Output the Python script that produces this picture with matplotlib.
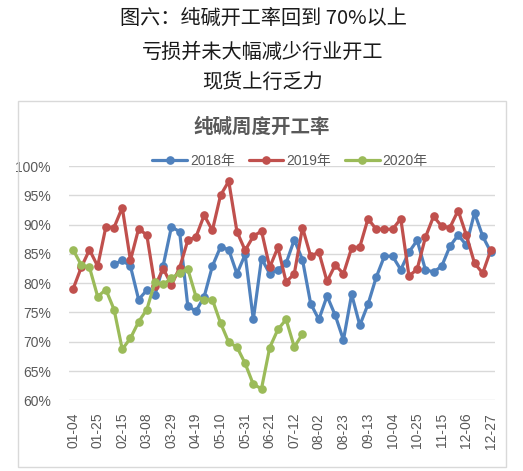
import numpy as np
import matplotlib
matplotlib.use("Agg")
import matplotlib.pyplot as plt
from matplotlib.patches import Rectangle

plt.rcParams['font.family'] = ['Liberation Sans', 'Noto Sans CJK SC', 'DejaVu Sans']

# ---- data ----
n_weeks = 52
tick_positions = list(range(0, 52, 3))
tick_labels = ['01-04', '01-25', '02-15', '03-08', '03-29', '04-19', '05-10', '05-31',
               '06-21', '07-12', '08-02', '08-23', '09-13', '10-04', '10-25', '11-15',
               '12-06', '12-27']

s2018 = [np.nan, np.nan, np.nan, np.nan, np.nan,
         83.2, 83.9, 82.9, 77.2, 78.8, 78.0, 83.0, 89.6, 88.8, 76.1,
         75.2, 77.7, 82.9, 86.2, 85.7, 81.6, 84.9, 73.8, 84.2, 81.6,
         82.3, 83.4, 87.4, 84.0, 76.5, 73.8, 77.8, 74.5, 70.3, 78.1,
         72.8, 76.4, 81.0, 84.6, 84.6, 82.3, 85.3, 87.3, 82.3, 81.9,
         82.9, 86.3, 88.2, 86.5, 92.0, 88.0, 85.3]
s2019 = [79.0, 82.7, 85.7, 82.9, 89.6, 89.5, 92.9, 83.9, 89.3, 88.2,
         79.5, 82.5, 79.7, 82.6, 87.3, 87.9, 91.6, 89.0, 95.0, 97.4,
         88.8, 85.6, 88.0, 88.9, 82.7, 86.1, 80.2, 81.6, 89.5, 84.6,
         85.3, 80.3, 83.1, 81.6, 86.0, 86.2, 91.0, 89.2, 89.2, 89.2,
         91.0, 81.2, 82.4, 87.8, 91.4, 89.7, 89.5, 92.4, 88.2, 83.4,
         81.7, 85.7]
s2020 = [85.7, 83.1, 82.7, 77.7, 78.9, 75.5, 68.7, 70.6, 73.4, 75.5,
         80.2, 79.8, 80.8, 81.8, 82.4, 77.7, 77.2, 77.2, 73.2, 69.9,
         69.1, 66.3, 62.7, 62.0, 69.0, 72.1, 73.8, 69.1, 71.3]

series_names = ['2018年', '2019年', '2020年']
series_colors = ['#4F81BD', '#C0504D', '#9BBB59']

W, H = 523, 471
fig = plt.figure(figsize=(W / 100, H / 100), dpi=100)

# header text
hdr_kw = dict(ha='center', va='center', fontsize=14.5, color='#1a1a1a',
              family=['Noto Sans CJK SC', 'DejaVu Sans'])
fig.text(263 / W, 1 - 18 / H, '图六：纯碱开工率回到 70%以上', **hdr_kw)
fig.text(263 / W, 1 - 52 / H, '亏损并未大幅减少行业开工', **hdr_kw)
fig.text(263 / W, 1 - 82 / H, '现货上行乏力', **hdr_kw)

# chart border
fig.patches.append(Rectangle((18 / W, 1 - 467 / H), (506 - 18) / W, (467 - 101) / H,
                             transform=fig.transFigure, fill=False,
                             edgecolor='#d9d9d9', linewidth=1.0))

fig.text(262 / W, 1 - 127 / H, '纯碱周度开工率', ha='center', va='center',
         fontsize=14, color='#595959', fontweight='bold',
         family=['Noto Sans CJK SC', 'DejaVu Sans'])

ax = fig.add_axes([69 / W, 1 - 400.3 / H, (495 - 69) / W, (400.3 - 166) / H])
x = np.arange(n_weeks)
handles = []
for vals, name, col in zip([s2018, s2019, s2020], series_names, series_colors):
    v = np.array(vals, dtype=float) / 100.0
    h, = ax.plot(x[:len(v)], v, color=col, linewidth=2.3, marker='o',
                 markersize=5.2, label=name, solid_capstyle='round')
    handles.append(h)

ax.set_xlim(-0.5, n_weeks - 0.5)
ax.set_ylim(0.60, 1.00)
yt = np.arange(0.60, 1.0001, 0.05)
ax.set_yticks(yt)
ax.set_yticklabels([f'{v * 100:.0f}%' for v in yt])
ax.set_xticks(tick_positions)
ax.set_xticklabels(tick_labels, rotation=90)
ax.tick_params(axis='both', length=0, labelsize=10, labelcolor='#595959')
ax.tick_params(axis='y', pad=13)
ax.tick_params(axis='x', pad=9)
ax.grid(axis='y', color='#d9d9d9', linewidth=1.0)
ax.set_axisbelow(True)
for s in ax.spines.values():
    s.set_visible(False)

fig.legend(handles=handles, loc='center', bbox_to_anchor=(290 / W, 1 - 161 / H),
           ncol=3, frameon=False, fontsize=10, handlelength=2.5,
           handletextpad=0.2, columnspacing=1.0, labelcolor='#595959',
           borderaxespad=0, borderpad=0)

fig.savefig('out.png', dpi=100)
